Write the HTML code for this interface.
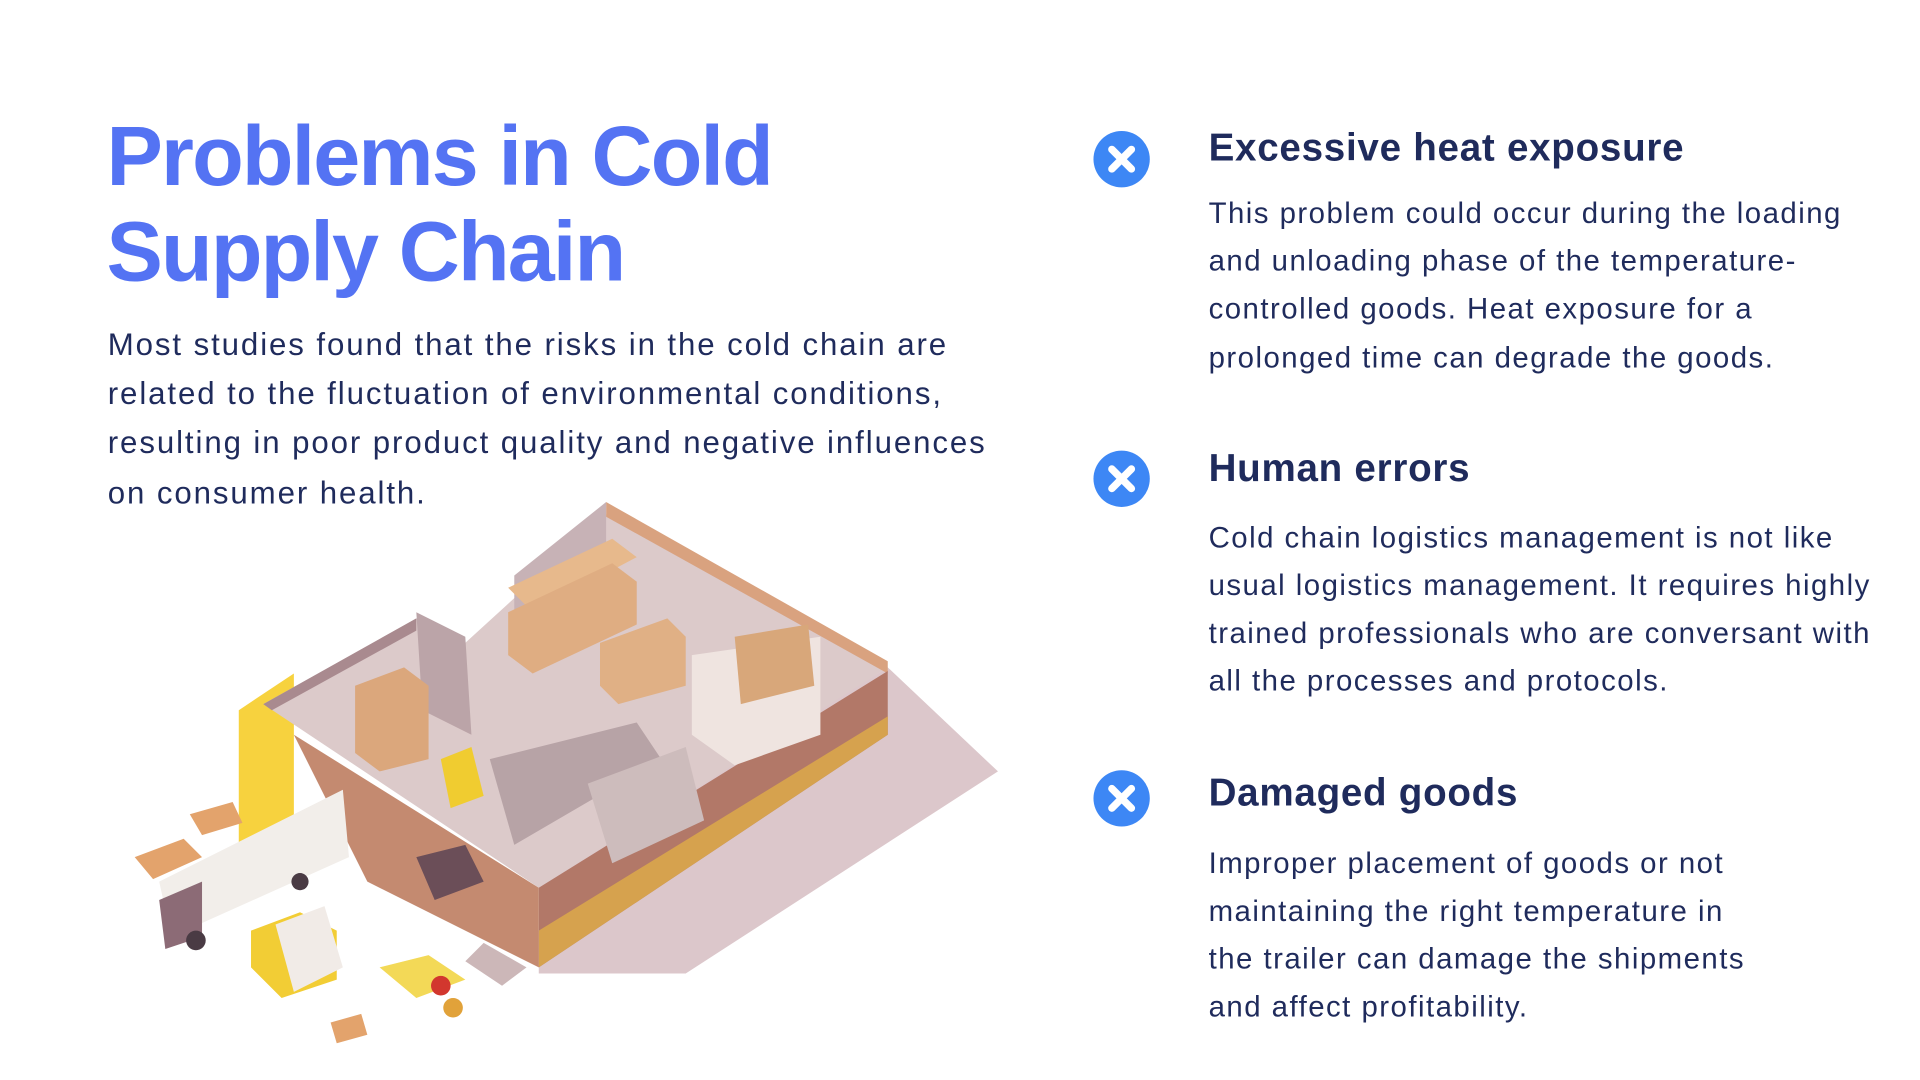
<!DOCTYPE html>
<html><head><meta charset="utf-8"><style>
html,body{margin:0;padding:0;background:#fff;width:1920px;height:1080px;overflow:hidden}
#stage{position:absolute;left:0;top:0;width:1568px;height:882px;transform:scale(1.22449);transform-origin:0 0;font-family:"Liberation Sans",sans-serif}
.t{position:absolute;white-space:nowrap}
.title{left:87px;font-size:69px;font-weight:bold;color:#5473f3;letter-spacing:-1.5px}
.p{left:88px;font-size:25.5px;color:#1f2b5c;letter-spacing:1.55px}
.h{left:987px;font-size:31.5px;font-weight:bold;color:#1f2b5c;letter-spacing:0.6px}
.b{left:987px;font-size:24px;color:#1f2b5c;letter-spacing:1.2px}
.icon{position:absolute;width:46px;height:46px;border-radius:50%;background:#3d87f5}
</style></head><body>
<div id="stage">
<div class="t title" style="top:88px">Problems in Cold</div>
<div class="t title" style="top:166px">Supply Chain</div>
<div>
<div class="t p" style="top:268px">Most studies found that the risks in the cold chain are</div>
<div class="t p" style="top:308px">related to the fluctuation of environmental conditions,</div>
<div class="t p" style="top:348px">resulting in poor product quality and negative influences</div>
<div class="t p" style="top:389px">on consumer health.</div>
</div>

<svg style="position:absolute;left:0;top:0" width="1568" height="882">
<polygon points="725,545 815,630 560,795 440,795 440,720" fill="#dcc7cb"/>
<polygon points="195,580 240,550 240,690 195,700" fill="#f7d23e"/>
<polygon points="215,575 340,505 380,525 495,420 725,545 440,725" fill="#dccaca"/>
<polygon points="215,575 340,505 340,515 222,580" fill="#a98a8f"/>
<polygon points="495,410 725,540 725,550 495,422" fill="#d9a27f"/>
<polygon points="495,410 495,460 420,500 420,470" fill="#c7b2b6"/>
<polygon points="340,500 380,520 385,600 345,580" fill="#bba4a8"/>
<polygon points="440,725 725,548 725,600 440,790" fill="#b27868"/>
<polygon points="440,760 725,585 725,600 440,790" fill="#d6a24e"/>
<polygon points="240,600 440,725 440,790 300,720" fill="#c48a70"/>
<polygon points="415,480 500,440 520,455 435,500" fill="#e7b98c"/>
<polygon points="415,500 500,460 520,475 520,510 435,550 415,535" fill="#dfad82"/>
<polygon points="290,560 330,545 350,560 350,620 310,630 290,615" fill="#dba77c"/>
<polygon points="490,525 545,505 560,520 560,560 505,575 490,560" fill="#e0b085"/>
<polygon points="565,535 670,520 670,600 600,625 565,600" fill="#efe4e0"/>
<polygon points="600,520 660,510 665,560 605,575" fill="#d8a77a"/>
<polygon points="400,620 520,590 540,620 420,690" fill="#b7a3a6"/>
<polygon points="480,640 560,610 575,670 500,705" fill="#cdbcbc"/>
<polygon points="360,620 385,610 395,650 368,660" fill="#f0cc30"/>
<polygon points="130,720 280,645 285,700 140,765" fill="#f2eeea"/>
<polygon points="130,735 165,720 165,765 135,775" fill="#8c6b76"/>
<circle cx="160" cy="768" r="8" fill="#4a3b44"/><circle cx="245" cy="720" r="7" fill="#4a3b44"/>
<polygon points="205,760 245,745 275,760 275,800 230,815 205,790" fill="#f2cd35"/>
<polygon points="225,755 265,740 280,790 240,810" fill="#f1ebe7"/>
<polygon points="310,790 350,780 380,800 340,815" fill="#f3d957"/>
<polygon points="340,700 380,690 395,720 355,735" fill="#6b4e58"/>
<circle cx="360" cy="805" r="8" fill="#d2372e"/><circle cx="370" cy="823" r="8" fill="#e1a23a"/>
<polygon points="110,700 150,685 165,700 125,718" fill="#e3a36c"/>
<polygon points="155,665 190,655 198,672 165,682" fill="#e3a36c"/>
<polygon points="270,835 295,828 300,845 275,852" fill="#e3a36c"/>
<polygon points="395,770 430,790 410,805 380,785" fill="#ccb7b8"/>
</svg>

<div class="icon" style="left:893px;top:107px"><svg width="46" height="46"><path d="M15 15L31 31M31 15L15 31" stroke="#fff" stroke-width="6" stroke-linecap="round"/></svg></div>
<div class="icon" style="left:893px;top:368px"><svg width="46" height="46"><path d="M15 15L31 31M31 15L15 31" stroke="#fff" stroke-width="6" stroke-linecap="round"/></svg></div>
<div class="icon" style="left:893px;top:629px"><svg width="46" height="46"><path d="M15 15L31 31M31 15L15 31" stroke="#fff" stroke-width="6" stroke-linecap="round"/></svg></div>

<div class="t h" style="top:102px">Excessive heat exposure</div>
<div>
<div class="t b" style="top:161px">This problem could occur during the loading</div>
<div class="t b" style="top:200px">and unloading phase of the temperature-</div>
<div class="t b" style="top:239px">controlled goods. Heat exposure for a</div>
<div class="t b" style="top:279px">prolonged time can degrade the goods.</div>
</div>
<div class="t h" style="top:364px">Human errors</div>
<div>
<div class="t b" style="top:426px">Cold chain logistics management is not like</div>
<div class="t b" style="top:465px">usual logistics management. It requires highly</div>
<div class="t b" style="top:504px">trained professionals who are conversant with</div>
<div class="t b" style="top:543px">all the processes and protocols.</div>
</div>
<div class="t h" style="top:629px">Damaged goods</div>
<div>
<div class="t b" style="top:692px">Improper placement of goods or not</div>
<div class="t b" style="top:731px">maintaining the right temperature in</div>
<div class="t b" style="top:770px">the trailer can damage the shipments</div>
<div class="t b" style="top:809px">and affect profitability.</div>
</div>
</div>
</body></html>
